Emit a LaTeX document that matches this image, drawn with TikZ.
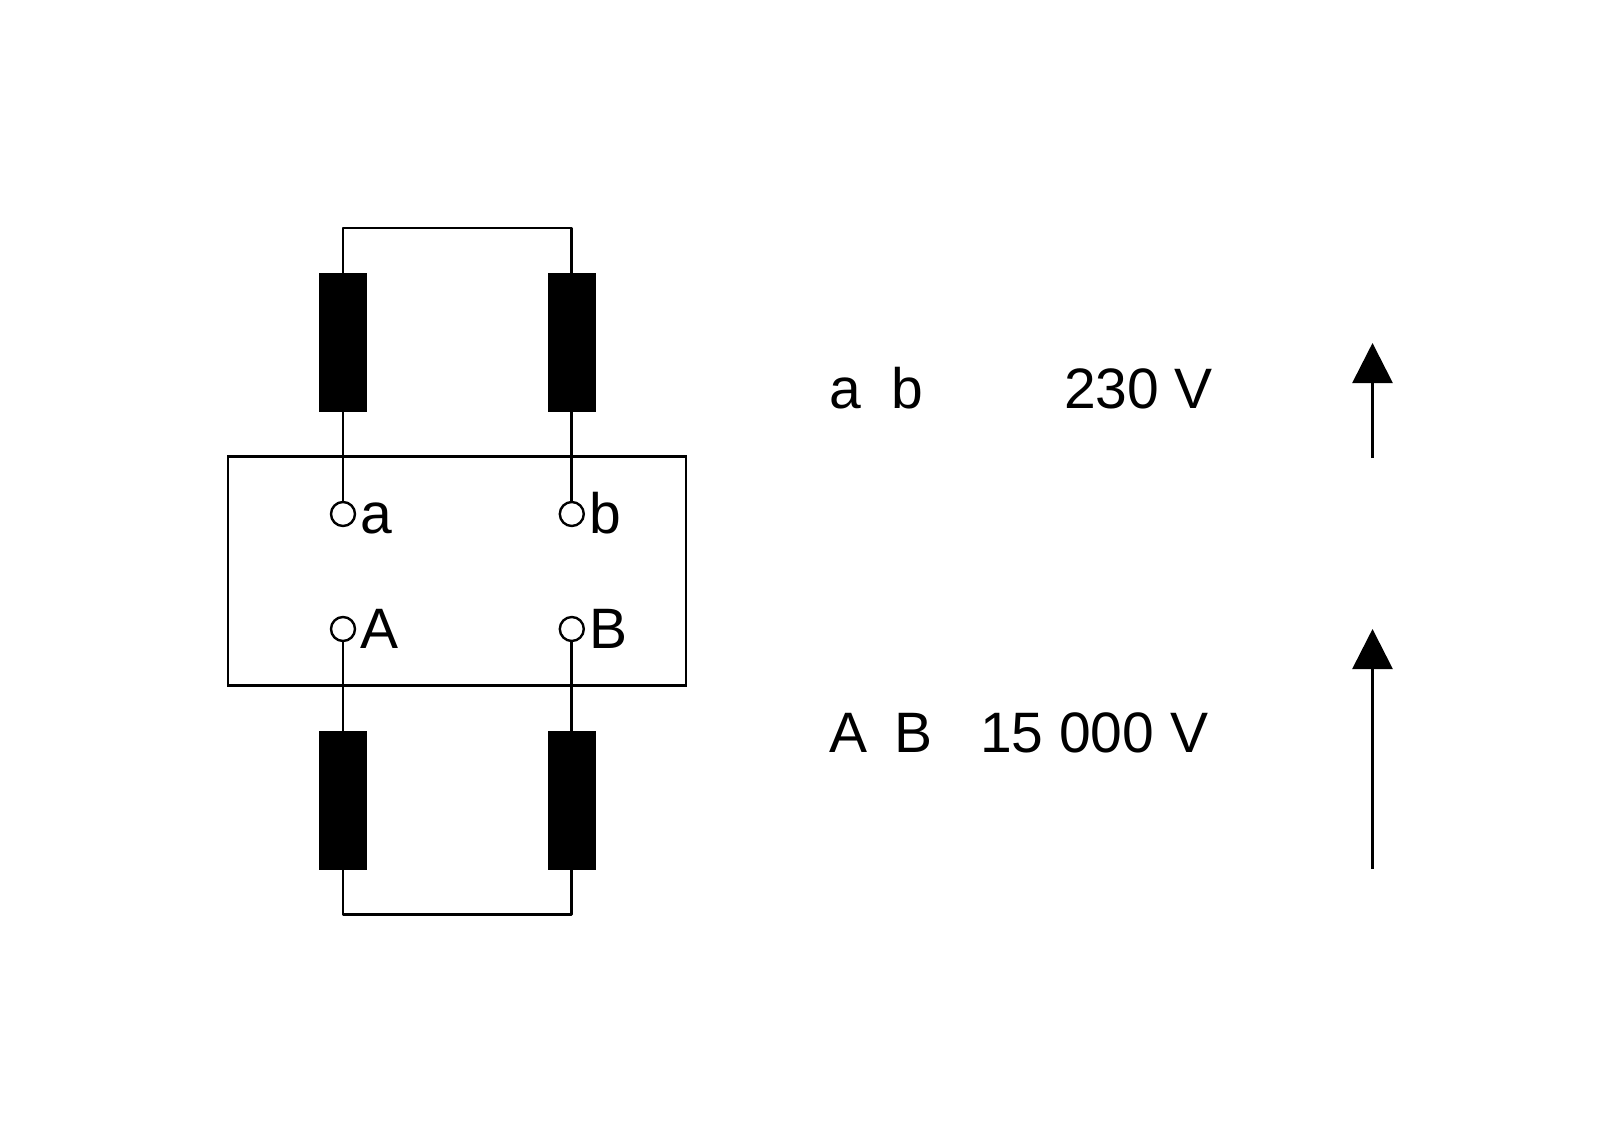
\documentclass[tikz,border=0pt]{standalone}
\usepackage{fontspec}
\setmainfont{Liberation Sans}
\usetikzlibrary{arrows.meta}
\tikzset{
  wire/.style={line width=2.8pt,draw=black},
  coil/.style={rectangle,fill=black,draw=none,inner sep=0pt,outer sep=0pt,minimum width=48pt,minimum height=139pt},
  terminal/.style={circle,draw=black,line width=2.4pt,fill=white,inner sep=0pt,outer sep=0pt,minimum size=24pt},
  frame/.style={rectangle,draw=black,line width=2.8pt,inner sep=0pt,outer sep=0pt,minimum width=458pt,minimum height=229pt},
  lbl/.style={anchor=base west,inner sep=0pt,outer sep=0pt,text=black,font=\fontsize{57}{60}\selectfont},
  uparrow/.style={wire,-{Triangle[width=40pt,length=40pt]}}
}
\begin{document}
\begin{tikzpicture}[x=1pt,y=-1pt]
\useasboundingbox (0,0) rectangle (1600,1143);
\node[frame] (box) at (457,571.3) {};
\node[coil] (c1) at (343,342.5) {};
\node[coil] (c2) at (571.8,342.5) {};
\node[coil] (c3) at (343,800) {};
\node[coil] (c4) at (571.8,800) {};
\coordinate (t1) at (343,228);
\coordinate (t2) at (571.8,228);
\coordinate (b1) at (343,914.6);
\coordinate (b2) at (571.8,914.6);
\draw[wire,line join=round] (c1.north) -- (t1) -- (t2) -- (c2.north);
\draw[wire,line join=round] (c3.south) -- (b1) -- (b2) -- (c4.south);
\node[terminal] (ta) at (343,514) {};
\node[terminal] (tb) at (571.8,514) {};
\node[terminal] (tA) at (343,629) {};
\node[terminal] (tB) at (571.8,629) {};
\draw[wire] (c1.south) -- (ta.north);
\draw[wire] (c2.south) -- (tb.north);
\draw[wire] (c3.north) -- (tA.south);
\draw[wire] (c4.north) -- (tB.south);
\node[lbl] (la) at (360,533) {a};
\node[lbl] (lb) at (589,533) {b};
\node[lbl] (lA) at (360,648) {A};
\node[lbl] (lB) at (589,648) {B};
\node[lbl] (ra) at (829,408) {a};
\node[lbl] (rb) at (891,408) {b};
\node[lbl] (v1) at (1064,408) {230 V};
\node[lbl] (rA) at (829,752) {A};
\node[lbl] (rB) at (894.5,752) {B};
\node[lbl] (v2) at (980,752) {15 000 V};
\coordinate (a1s) at (1372.5,458);
\coordinate (a1e) at (1372.5,343);
\coordinate (a2s) at (1372.5,869);
\coordinate (a2e) at (1372.5,629);
\draw[uparrow] (a1s) -- (a1e);
\draw[uparrow] (a2s) -- (a2e);
\end{tikzpicture}
\end{document}
